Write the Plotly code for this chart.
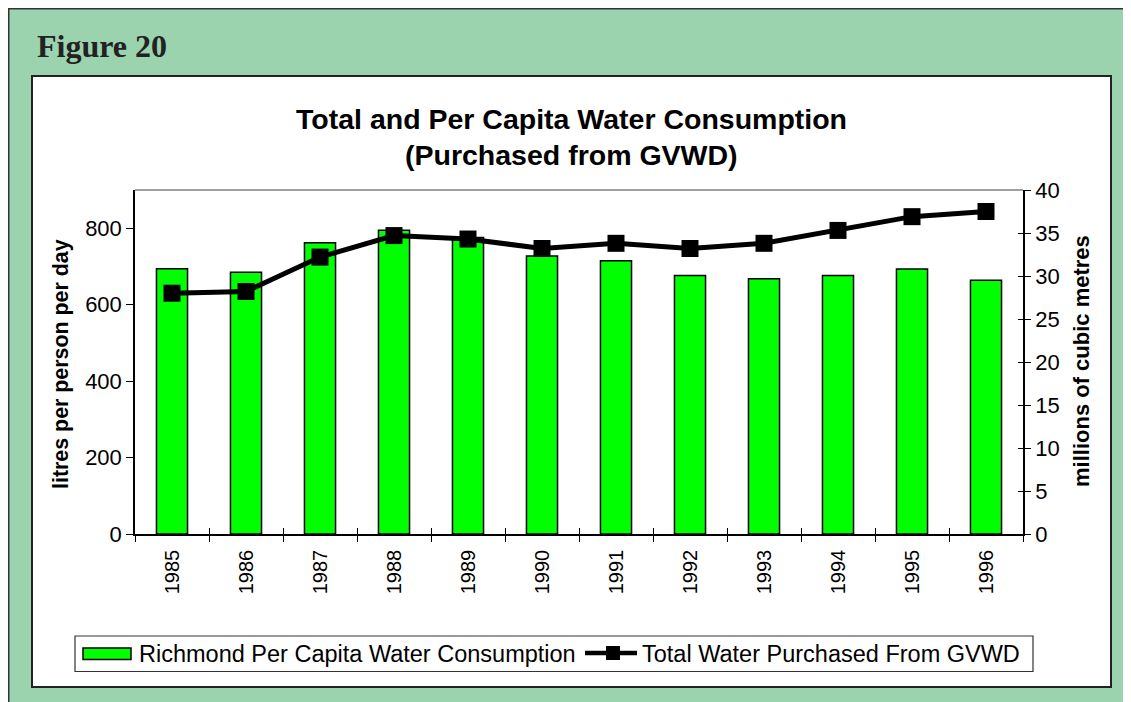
import plotly.graph_objects as go

years = ["1985", "1986", "1987", "1988", "1989", "1990", "1991", "1992", "1993", "1994", "1995", "1996"]
per_capita = [694, 685, 762, 795, 776, 727, 715, 676, 668, 676, 693, 664]
total_purchased = [28.0, 28.2, 32.2, 34.7, 34.3, 33.2, 33.8, 33.2, 33.8, 35.3, 36.9, 37.5]
bar_name = "Richmond Per Capita Water Consumption"
line_name = "Total Water Purchased From GVWD"

OFF = 8  # page body margin
W, H = 1131 - OFF, 702 - OFF
L, R, T, B = 135 - OFF, 1023 - OFF, 190 - OFF, 534 - OFF
PW, PH = R - L, B - T

def px(x):
    # screen x -> paper
    return (x - OFF - L) / PW

def py(y):
    # screen y -> paper
    return (B - (y - OFF)) / PH

GREEN_BG = "#9BD3AF"
BAR_GREEN = "#00FF00"
FONT = "Liberation Sans, Arial, sans-serif"

fig = go.Figure()
fig.add_trace(go.Bar(
    x=years, y=per_capita, name=bar_name,
    marker=dict(color=BAR_GREEN, line=dict(color="black", width=1.5)),
    width=0.42, yaxis="y", showlegend=False,
))
fig.add_trace(go.Scatter(
    x=years, y=total_purchased, name=line_name,
    mode="lines+markers", line=dict(color="black", width=5),
    marker=dict(symbol="square", size=17, color="black"),
    yaxis="y2", showlegend=False,
))
# empty helper trace: carries the inner half of the crossing tick marks
fig.add_trace(go.Scatter(x=years, y=[None] * len(years), xaxis="x2", yaxis="y3",
                         showlegend=False, hoverinfo="skip"))

def rect(x0, y0, x1, y1, **kw):
    return dict(type="rect", xref="paper", yref="paper", x0=px(x0), x1=px(x1),
                y0=py(y1), y1=py(y0), **kw)

def hline(x0, x1, y, **kw):
    return dict(type="line", xref="paper", yref="paper", x0=px(x0), x1=px(x1),
                y0=py(y), y1=py(y), **kw)

shapes = [
    hline(8, 1131, 8.5, line=dict(color="#333333", width=2), layer="below"),
    dict(type="line", xref="paper", yref="paper", x0=px(8.5), x1=px(8.5), y0=py(8), y1=py(702),
         line=dict(color="#333333", width=2), layer="below"),
    rect(32, 76, 1111, 687, fillcolor="white", line=dict(color="#222222", width=2), layer="below"),
    dict(type="line", xref="paper", yref="paper", x0=0, x1=1, y0=1, y1=1,
         line=dict(color="#808080", width=1.5), layer="below"),
    # legend box and symbols
    rect(75, 636, 1033, 671.5, fillcolor="white", line=dict(color="#333333", width=1.2)),
    rect(83, 648, 131, 659.5, fillcolor=BAR_GREEN, line=dict(color="black", width=1.5)),
    hline(585, 637, 653, line=dict(color="black", width=4.5)),
    rect(606, 646, 620, 660, fillcolor="black", line=dict(color="black", width=0)),
]

annotations = [
    dict(text="<b>Figure 20</b>", x=px(35), y=py(46), xref="paper", yref="paper",
         xanchor="left", yanchor="middle", showarrow=False,
         font=dict(family="Liberation Serif, Times New Roman, serif", size=32, color="#222222")),
    dict(text="<b>Total and Per Capita Water Consumption</b>", x=px(571), y=py(119),
         xref="paper", yref="paper", xanchor="center", yanchor="middle", showarrow=False,
         font=dict(family=FONT, size=28.5, color="black")),
    dict(text="<b>(Purchased from GVWD)</b>", x=px(571), y=py(155),
         xref="paper", yref="paper", xanchor="center", yanchor="middle", showarrow=False,
         font=dict(family=FONT, size=28.5, color="black")),
    dict(text="<b>litres per person per day</b>", x=px(61), y=py(364), textangle=-90,
         xref="paper", yref="paper", xanchor="center", yanchor="middle", showarrow=False,
         font=dict(family=FONT, size=21.4, color="black")),
    dict(text="<b>millions of cubic metres</b>", x=px(1081), y=py(361), textangle=-90,
         xref="paper", yref="paper", xanchor="center", yanchor="middle", showarrow=False,
         font=dict(family=FONT, size=22, color="black")),
    dict(text=bar_name, x=px(137), y=py(653.5), xref="paper", yref="paper",
         xanchor="left", yanchor="middle", showarrow=False,
         font=dict(family=FONT, size=23.5, color="black")),
    dict(text=line_name, x=px(640), y=py(653.5), xref="paper", yref="paper",
         xanchor="left", yanchor="middle", showarrow=False,
         font=dict(family=FONT, size=23.5, color="black")),
]

xrange = [-0.5, len(years) - 0.5]

fig.update_layout(
    width=W, height=H,
    margin=dict(l=L, r=W - R, t=T, b=H - B, pad=0, autoexpand=False),
    paper_bgcolor=GREEN_BG, plot_bgcolor="white",
    font=dict(family=FONT, size=20, color="black"),
    showlegend=False,
    xaxis=dict(type="category", range=xrange, showline=True,
               linecolor="black", linewidth=1.5,
               ticks="outside", tickson="boundaries", ticklen=6, tickcolor="black",
               tickangle=-90, showgrid=False, tickfont=dict(size=20), mirror=False,
               ticklabelstandoff=6),
    xaxis2=dict(type="category", range=xrange, overlaying="x", anchor="y3", side="bottom",
                categoryorder="array", categoryarray=years,
                showline=False, ticks="inside", tickson="boundaries", ticklen=6,
                tickcolor="black", showticklabels=False, showgrid=False),
    yaxis=dict(range=[0, 900], tickvals=[0, 200, 400, 600, 800], showline=True,
               linecolor="black", linewidth=1.5, ticks="outside", ticklen=7,
               tickcolor="black", showgrid=False, zeroline=False, tickfont=dict(size=22)),
    yaxis2=dict(range=[0, 40], dtick=5, overlaying="y", side="right", showline=True,
                linecolor="black", linewidth=1.5, ticks="outside", ticklen=6,
                tickcolor="black", showgrid=False, zeroline=False, tickfont=dict(size=22)),
    yaxis3=dict(range=[0, 40], dtick=5, overlaying="y", side="right", anchor="x2",
                showline=False, ticks="inside", ticklen=5, tickcolor="black",
                showticklabels=False, showgrid=False, zeroline=False),
    shapes=shapes, annotations=annotations, bargap=0.58,
)

fig.write_html("out.html")
